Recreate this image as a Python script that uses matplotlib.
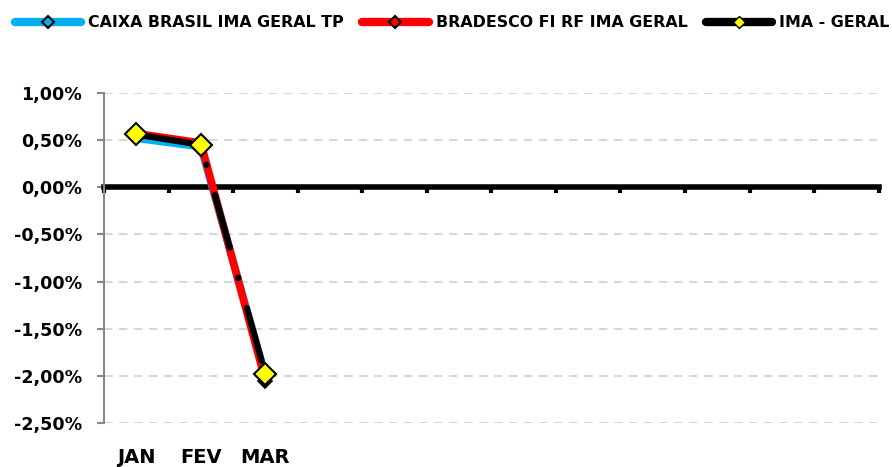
import matplotlib
matplotlib.use('Agg')
import matplotlib.pyplot as plt
import matplotlib.transforms as mtransforms
from matplotlib.lines import Line2D

months = ['JAN', 'FEV', 'MAR', '', '', '', '', '', '', '', '', '']
caixa = [0.52, 0.43, -2.00]
bradesco = [0.57, 0.47, -2.05]
ima_geral = [0.56, 0.45, -1.98]
yticks = [1.0, 0.5, 0.0, -0.5, -1.0, -1.5, -2.0, -2.5]
labels = ['CAIXA BRASIL IMA GERAL TP', 'BRADESCO FI RF IMA GERAL', 'IMA - GERAL']

plt.rcParams['font.family'] = 'DejaVu Sans'
plt.rcParams['font.weight'] = 'bold'

fig = plt.figure(figsize=(8.92, 4.67), dpi=100)
ax = fig.add_axes([0.1166, 0.0942, 0.8684, 0.7067])

# series
x = list(range(len(caixa)))
ax.plot(x, caixa, color='#00b0f0', lw=5.5, marker='D', ms=6,
        mfc='#00b0f0', mec='black', mew=1.2, solid_capstyle='round', zorder=3)
ax.plot(x, bradesco, color='red', lw=5.5, marker='D', ms=7,
        mfc='#8b0000', mec='black', mew=1.2, solid_capstyle='round', zorder=4)
ax.plot(x, ima_geral, color='black', lw=4.5, marker='D', ms=11,
        mfc='#ffff00', mec='black', mew=1.5, dashes=(8.75, 5, 0.05, 5),
        dash_capstyle='round', zorder=5)

ax.set_xlim(-0.5, len(months) - 0.5)
ax.set_ylim(-2.5, 1.0)
ax.set_yticks(yticks)
ax.set_yticklabels([f'{v:.2f}%'.replace('.', ',') for v in yticks], fontsize=12.6)
for v in yticks:
    if v != 0:
        ax.axhline(v, color='#d0d0d0', lw=1.2, dashes=(5, 4), zorder=0)

for s in ['top', 'right']:
    ax.spines[s].set_visible(False)
ax.spines['left'].set_color('#888888')
ax.spines['left'].set_linewidth(1.5)
ax.spines['bottom'].set_position(('data', 0))
ax.spines['bottom'].set_linewidth(4)
ax.spines['bottom'].set_zorder(2)
ax.tick_params(axis='y', colors='#888888', length=5, width=1.5, pad=11,
               labelcolor='black')
ax.set_xticks([i - 0.5 for i in range(len(months) + 1)])
ax.set_xticklabels([])
ax.tick_params(axis='x', length=4, width=3, color='black')

# month labels sit at the bottom of the plot, not on the zero line
trans = mtransforms.blended_transform_factory(ax.transData, ax.transAxes)
for i, m in enumerate(months):
    ax.text(i, -0.105, m, transform=trans, ha='center', va='center', fontsize=14)

handles = [
    Line2D([], [], color='#00b0f0', lw=6, marker='D', ms=6, mfc='#00b0f0',
           mec='black', mew=1.5, solid_capstyle='round'),
    Line2D([], [], color='red', lw=6, marker='D', ms=6, mfc='red',
           mec='black', mew=1.5, solid_capstyle='round'),
    Line2D([], [], color='black', lw=6, marker='D', ms=6, mfc='#ffff00',
           mec='black', mew=1, solid_capstyle='round'),
]
fig.legend(handles, labels, loc='upper center', ncol=3, frameon=False,
           fontsize=11.4, bbox_to_anchor=(0.507, 1.0), handlelength=4.2,
           columnspacing=1.15, handletextpad=0.45, borderaxespad=0.55)

fig.savefig('out.png', dpi=100)
